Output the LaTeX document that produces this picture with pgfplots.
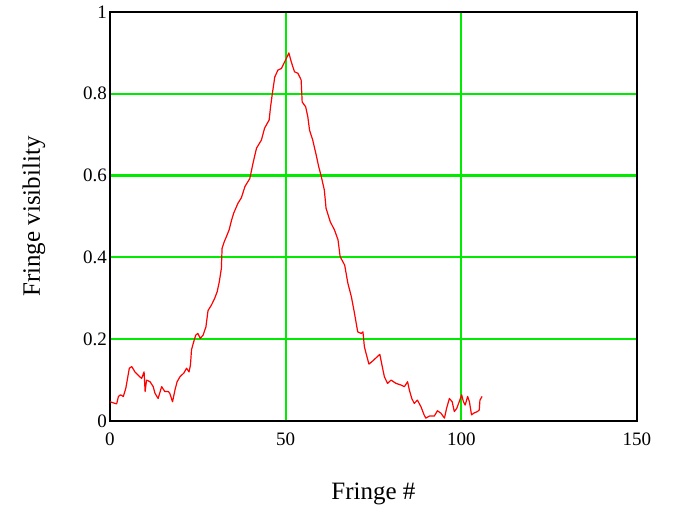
\documentclass[border=0pt]{standalone}
\usepackage{fontspec}
\setmainfont{Liberation Serif}
\usepackage{pgfplots}
\pgfplotsset{compat=1.18}
\definecolor{GridGreen}{rgb}{0,0.92,0}
\definecolor{CurveRed}{rgb}{1,0,0}

\begin{document}
\begin{tikzpicture}
% page frame: 673 x 508, axis box 527 x 409
\path[use as bounding box] (-110pt,-87pt) rectangle (563pt,421pt);
\begin{axis}[
    at={(0pt,0pt)}, anchor=south west,
    scale only axis,
    width=527pt, height=409pt,
    xmin=0, xmax=150, ymin=0, ymax=1,
    xtick={0,50,100,150},
    ytick={0,0.2,0.4,0.6,0.8,1},
    yticklabels={0,0.2,0.4,0.6,0.8,1},
    grid=major,
    every axis grid/.style={color=GridGreen, line width=2.2pt},
    axis line style={black, line width=1.3pt},
    major tick length=0pt,
    /pgf/number format/assume math mode=true,
    tick label style={font=\fontsize{19}{19}\selectfont, inner sep=0pt},
    xticklabel style={anchor=north, yshift=-12pt},
    yticklabel style={anchor=east, xshift=-3pt},
    label style={font=\fontsize{25}{25}\selectfont},
    xlabel={Fringe \#},
    ylabel={Fringe visibility},
    xlabel style={at={(axis description cs:0.5,-0.193)}, anchor=base},
    ylabel style={at={(axis description cs:-0.133,0.5)}, anchor=base},
]
\addplot[CurveRed, line width=1.2pt, line join=round] coordinates {
(0,0.047) (1.4,0.043) (1.9,0.042) (2.4,0.060) (3.0,0.064) (3.8,0.060)
(4.5,0.080) (5.5,0.129) (6.2,0.133) (7.1,0.120) (8.0,0.112) (9.0,0.104)
(9.7,0.120) (10.0,0.072) (10.4,0.100) (11.4,0.096) (12.3,0.084) (12.8,0.068)
(13.7,0.055) (14.7,0.084) (15.6,0.072) (16.6,0.072) (17.0,0.068) (17.8,0.047)
(18.5,0.076) (19.1,0.096) (19.9,0.108) (21.0,0.117) (21.8,0.129) (22.5,0.120)
(22.9,0.137) (23.2,0.174) (23.7,0.190) (24.4,0.210) (25.0,0.214) (25.7,0.202)
(26.5,0.210) (27.3,0.230) (27.9,0.270) (28.9,0.284) (29.8,0.300) (30.5,0.316)
(31.1,0.340) (31.7,0.373) (31.9,0.422) (32.5,0.438) (33.1,0.450) (33.9,0.467)
(34.6,0.491) (35.2,0.508) (36.4,0.532) (37.4,0.546) (38.4,0.573) (39.8,0.593)
(40.7,0.630) (41.7,0.667) (43.1,0.687) (44.0,0.716) (45.3,0.736) (45.7,0.768)
(46.2,0.800) (46.9,0.841) (47.8,0.858) (48.8,0.862) (49.7,0.878) (50.4,0.890)
(50.9,0.900) (51.6,0.878) (52.5,0.854) (53.5,0.850) (54.4,0.834) (54.7,0.780)
(55.7,0.768) (56.3,0.744) (56.8,0.711) (57.7,0.687) (58.7,0.650) (59.4,0.622)
(60.1,0.599) (61.0,0.565) (61.5,0.520) (62.7,0.487) (63.9,0.467) (64.9,0.443)
(65.5,0.402) (66.8,0.381) (67.7,0.337) (68.7,0.304) (69.6,0.263) (70.5,0.218)
(71.5,0.214) (72.0,0.218) (72.4,0.182) (72.9,0.165) (73.7,0.139) (74.8,0.147)
(76.8,0.163) (77.4,0.137) (78.1,0.108) (79.0,0.092) (80.0,0.100) (81.4,0.092)
(82.8,0.088) (83.8,0.084) (84.7,0.096) (85.2,0.076) (85.9,0.055) (86.6,0.043)
(87.5,0.051) (88.5,0.035) (89.4,0.015) (89.9,0.007) (90.9,0.012) (92.3,0.012)
(93.2,0.025) (94.2,0.019) (95.2,0.007) (95.8,0.031) (96.6,0.055) (97.4,0.047)
(98.0,0.023) (98.7,0.031) (99.4,0.047) (100.1,0.064) (100.6,0.047) (101.1,0.039)
(101.8,0.060) (102.3,0.047) (102.9,0.015) (103.7,0.020) (104.6,0.023) (105.1,0.027)
(105.3,0.051) (105.9,0.060)
};
\end{axis}
\end{tikzpicture}
\end{document}
